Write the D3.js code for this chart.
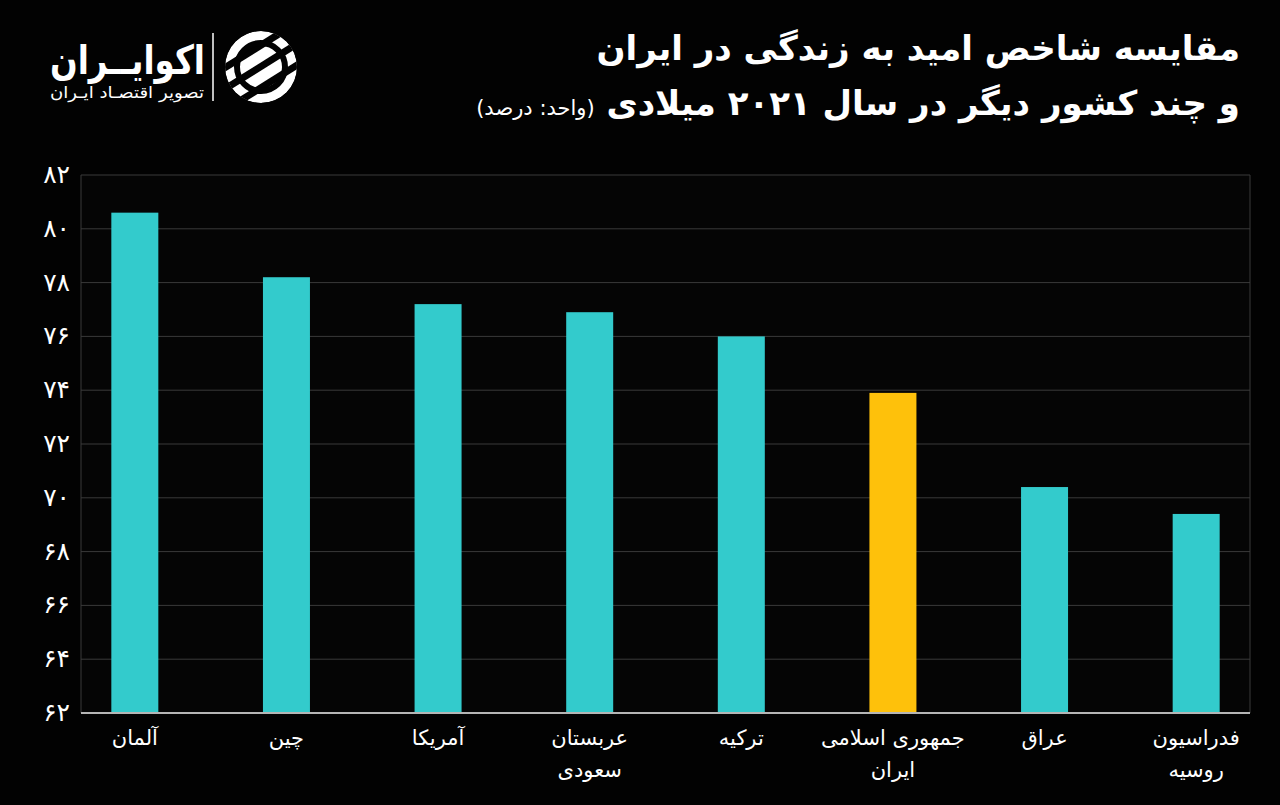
<!DOCTYPE html>
<html><head><meta charset="utf-8">
<script src="https://cdn.jsdelivr.net/npm/d3@7"></script>
<style>
html,body{margin:0;padding:0;background:#020202;}
svg{display:block;font-family:"DejaVu Sans",sans-serif;}
</style></head>
<body>
<svg id="chart" width="1280" height="805"></svg>
<script>
const categories = ["آلمان","چین","آمریکا","عربستان سعودی","ترکیه","جمهوری اسلامی ایران","عراق","فدراسیون روسیه"];
const labelLines = [["آلمان"],["چین"],["آمریکا"],["عربستان","سعودی"],["ترکیه"],["جمهوری اسلامی","ایران"],["عراق"],["فدراسیون","روسیه"]];
const values = [80.6, 78.2, 77.2, 76.9, 76.0, 73.9, 70.4, 69.4];
const highlight = "جمهوری اسلامی ایران";
const yTicks = [62,64,66,68,70,72,74,76,78,80,82];
const titleLine1 = "مقایسه شاخص امید به زندگی در ایران";
const titleLine2 = "و چند کشور دیگر در سال ۲۰۲۱ میلادی";
const unitText = "(واحد: درصد)";
const brand = "اکوایــران";
const brandSub = "تصویر اقتصـاد ایـران";

const fa = s => String(s).replace(/\d/g, d => "۰۱۲۳۴۵۶۷۸۹"[d]);

const svg = d3.select("#chart");
const W = 1280, H = 805;
svg.append("rect").attr("width",W).attr("height",H).attr("fill","#020202");

const m = {left:81, right:1250, top:175, bottom:713};
const x = d3.scaleBand().domain(categories).range([m.left, m.right]).paddingInner(0.69).paddingOuter(0.2);
const y = d3.scaleLinear().domain([62,82]).range([m.bottom, m.top]);

svg.append("rect").attr("x",m.left).attr("y",m.top).attr("width",m.right-m.left).attr("height",m.bottom-m.top).attr("fill","#050505");

svg.append("g").selectAll("line").data(yTicks.filter(t=>t>62)).join("line")
  .attr("x1",m.left).attr("x2",m.right).attr("y1",d=>y(d)).attr("y2",d=>y(d))
  .attr("stroke","#3a3a3a").attr("stroke-width",1);
svg.append("line").attr("x1",m.left).attr("x2",m.left).attr("y1",m.top).attr("y2",m.bottom).attr("stroke","#3a3a3a");
svg.append("line").attr("x1",m.right).attr("x2",m.right).attr("y1",m.top).attr("y2",m.bottom).attr("stroke","#3a3a3a");

svg.append("g").selectAll("rect").data(categories).join("rect")
  .attr("x",d=>x(d)).attr("width",x.bandwidth())
  .attr("y",(d,i)=>y(values[i])).attr("height",(d,i)=>y(62)-y(values[i]))
  .attr("fill",d=> d===highlight ? "#FEC10B" : "#33CBCC");

svg.append("line").attr("x1",m.left).attr("x2",m.right).attr("y1",m.bottom).attr("y2",m.bottom).attr("stroke","#b5b5b5").attr("stroke-width",2);

const yAxis = d3.axisLeft(y).tickValues(yTicks).tickFormat(fa).tickSize(0).tickPadding(11);
const gy = svg.append("g").attr("transform",`translate(${m.left},0)`).call(yAxis);
gy.select(".domain").remove();
gy.selectAll("text").attr("fill","#ffffff").attr("font-size",25).attr("font-family","DejaVu Sans, sans-serif").attr("dy","0.3em");

const xl = svg.append("g").selectAll("text").data(categories).join("text")
  .attr("x",d=>x(d)+x.bandwidth()/2).attr("y",745)
  .attr("text-anchor","middle").attr("fill","#ffffff").attr("font-size",21).attr("direction","rtl");
xl.each(function(d,i){
  const t = d3.select(this);
  labelLines[i].forEach((ln,j)=>{
    t.append("tspan").attr("x",x(d)+x.bandwidth()/2).attr("dy", j===0?0:32).text(ln);
  });
});

svg.append("text").attr("x",1240).attr("y",60).attr("direction","rtl").attr("text-anchor","start")
  .attr("fill","#fff").attr("font-size",34).attr("font-weight","bold").text(titleLine1);
const t2 = svg.append("text").attr("x",1240).attr("y",115).attr("direction","rtl").attr("text-anchor","start")
  .attr("fill","#fff").attr("font-size",34).attr("font-weight","bold");
t2.append("tspan").text(titleLine2 + " ");
t2.append("tspan").attr("font-size",21).attr("font-weight","normal").text(unitText);

// logo
svg.append("text").attr("x",205).attr("y",74).attr("text-anchor","start").attr("direction","rtl")
  .attr("fill","#fff").attr("font-size",40).attr("font-weight","bold")
  .attr("textLength",155).attr("lengthAdjust","spacingAndGlyphs").text(brand);
svg.append("text").attr("x",204).attr("y",98).attr("text-anchor","start").attr("direction","rtl")
  .attr("fill","#fff").attr("font-size",16)
  .attr("textLength",154).attr("lengthAdjust","spacingAndGlyphs").text(brandSub);
svg.append("line").attr("x1",213).attr("x2",213).attr("y1",33).attr("y2",101).attr("stroke","#fff").attr("stroke-width",1.5);
const lg = svg.append("g").attr("transform","translate(261,67)");
const defs = svg.append("defs");
defs.append("clipPath").attr("id","lc").append("circle").attr("r",36);
const lc = lg.append("g").attr("clip-path","url(#lc)");
lc.append("circle").attr("r",36).attr("fill","#fff");
[-22,-4,14].forEach(o=>{
  lc.append("rect").attr("x",-60).attr("y",o).attr("width",120).attr("height",7)
    .attr("fill","#020202").attr("transform","rotate(-32)");
});
lc.append("circle").attr("r",24).attr("fill","none").attr("stroke","#020202").attr("stroke-width",6);
</script>
</body></html>
